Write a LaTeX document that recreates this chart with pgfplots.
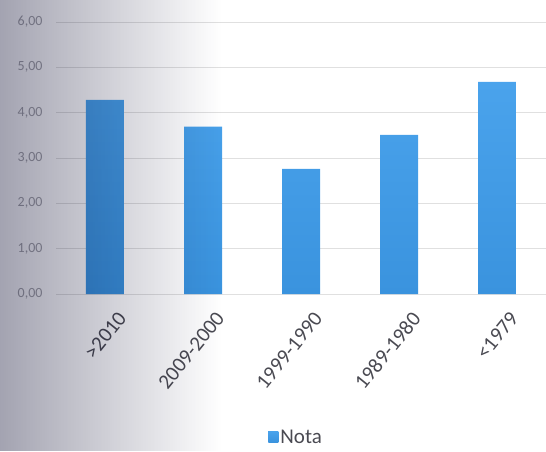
\documentclass[border=0pt]{standalone}
\usepackage{pgfplots}
\pgfplotsset{compat=1.18}
\usetikzlibrary{fadings}
\usepackage{fontspec}
\setmainfont{Carlito}
\definecolor{barblue}{HTML}{45A0E8}
\definecolor{bartop}{HTML}{4AA3EC}
\definecolor{barbot}{HTML}{3A93DE}
\definecolor{txtgray}{HTML}{4A4A52}
\begin{document}
\begin{tikzpicture}
\path[use as bounding box] (-56pt,-157pt) rectangle (490pt,294pt);
\begin{axis}[
  at={(0pt,0pt)}, anchor=south west,
  scale only axis, width=490pt, height=272pt,
  ymin=0, ymax=6, ytick={0,1,...,6},
  xmin=-0.5, xmax=4.5,
  xtick=data, xticklabels={>2010,2009-2000,1999-1990,1989-1980,<1979},
  x tick label style={rotate=51, anchor=north east, font=\fontsize{21}{21}\selectfont, text=txtgray, yshift=-16pt, xshift=-2pt},
  y tick label style={font=\fontsize{14}{14}\selectfont, text=txtgray!50, xshift=-10pt},
  /pgf/number format/assume math mode=true,
  yticklabel={\pgfmathprintnumber[fixed, fixed zerofill, precision=2, use comma]{\tick}},
  axis line style={draw=none},
  major tick length=0pt,
  ymajorgrids, grid style={draw=black!12, line width=0.8pt},
  ybar, bar width=38pt,
  legend style={at={(0.49,-0.526)}, anchor=center, draw=none, fill=none, font=\fontsize{21}{21}\selectfont, text=txtgray},
  legend image code/.code={\fill[barblue] (0pt,-5pt) rectangle (10pt,6pt);},
]
\addplot[draw=none, top color=bartop, bottom color=barbot] coordinates {(0,4.28) (1,3.69) (2,2.76) (3,3.51) (4,4.68)};
\addlegendentry{Nota}
\end{axis}
\fill[black!85!blue, path fading=east, opacity=0.36] (-56pt,-157pt) rectangle (165pt,294pt);
\end{tikzpicture}
\end{document}
